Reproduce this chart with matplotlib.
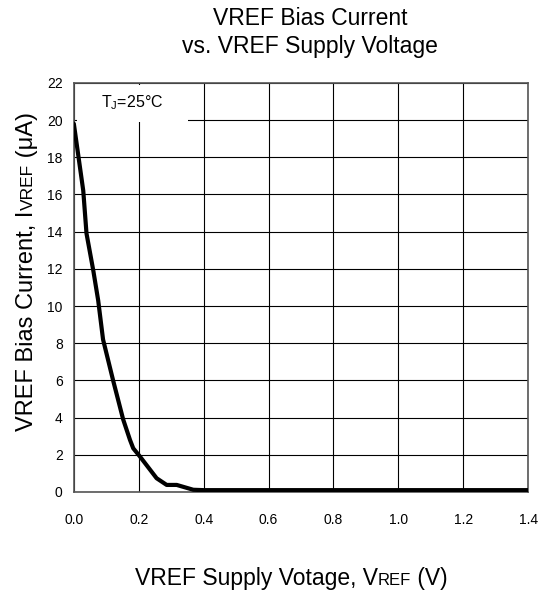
import matplotlib
matplotlib.use("Agg")
import matplotlib.pyplot as plt
from matplotlib.patches import Rectangle

plt.rcParams['font.family'] = ['Liberation Sans', 'DejaVu Sans']

vref = [0.0, 0.029, 0.039, 0.060, 0.075, 0.090, 0.121, 0.152, 0.173, 0.183, 0.204,
        0.255, 0.286, 0.317, 0.368, 0.40, 0.6, 0.8, 1.0, 1.2, 1.4]
ibias = [19.8, 16.2, 13.9, 11.9, 10.3, 8.2, 6.0, 3.9, 2.8, 2.35, 1.9,
         0.74, 0.38, 0.38, 0.12, 0.1, 0.1, 0.1, 0.1, 0.1, 0.1]
xticks = [0.0, 0.2, 0.4, 0.6, 0.8, 1.0, 1.2, 1.4]
xticklabels = ["0.0", "0.2", "0.4", "0.6", "0.8", "1.0", "1.2", "1.4"]
yticks = list(range(0, 23, 2))

W, H = 539, 596
fig = plt.figure(figsize=(W / 100, H / 100), dpi=100)
ax = fig.add_axes([0.137, 0.1745, 0.843, 0.6865])
ax.plot(vref, ibias, color='black', linewidth=3, solid_capstyle='round', zorder=5)
ax.set_xlim(0, 1.4)
ax.set_ylim(0, 22)
ax.set_xticks(xticks)
ax.set_xticklabels(xticklabels)
ax.set_yticks(yticks)
ax.grid(True, color='black', linewidth=0.8)
ax.tick_params(length=0, labelsize=10)
ax.tick_params(axis='x', pad=15)
ax.tick_params(axis='y', pad=8)
for s in ax.spines.values():
    s.set_color('#555555')
    s.set_linewidth(1.2)

ax.add_patch(Rectangle((0.009, 19.9), 0.343, 2.0, facecolor='white', edgecolor='none', zorder=4))
ax.text(0.18, 20.95, r"T$_\mathregular{J}$=25°C", fontsize=11.5, ha='center', va='center', zorder=6)

fig.text(0.575, 1 - 25 / H, "VREF Bias Current", ha='center', va='baseline', fontsize=16.5)
fig.text(0.575, 1 - 53 / H, "vs. VREF Supply Voltage", ha='center', va='baseline', fontsize=16.5)

renderer = fig.canvas.get_renderer()


def chain(cx, cy, pieces, vertical=False):
    """Draw text pieces on a shared baseline, centred on (cx, cy) in pixels."""
    rot = 90 if vertical else 0
    texts, lengths = [], []
    for s, size in pieces:
        t = fig.text(0, 0, s, fontsize=size, ha='left', va='baseline',
                     rotation=rot, rotation_mode='anchor')
        bb = t.get_window_extent(renderer)
        texts.append(t)
        lengths.append(bb.height if vertical else bb.width)
    total = sum(lengths)
    pos = (cy if vertical else cx) - total / 2
    for t, L in zip(texts, lengths):
        if vertical:
            t.set_position((cx / W, pos / H))
        else:
            t.set_position((pos / W, cy / H))
        pos += L


chain(291, H - 585, [("VREF Supply Votage, V", 16.5), ("REF", 12), (" (V)", 16.5)])
chain(33, H - 271.5, [("VREF Bias Current, I", 17), ("VREF", 12.5), (" (μA)", 17)], vertical=True)

fig.savefig("out.png", dpi=100)
